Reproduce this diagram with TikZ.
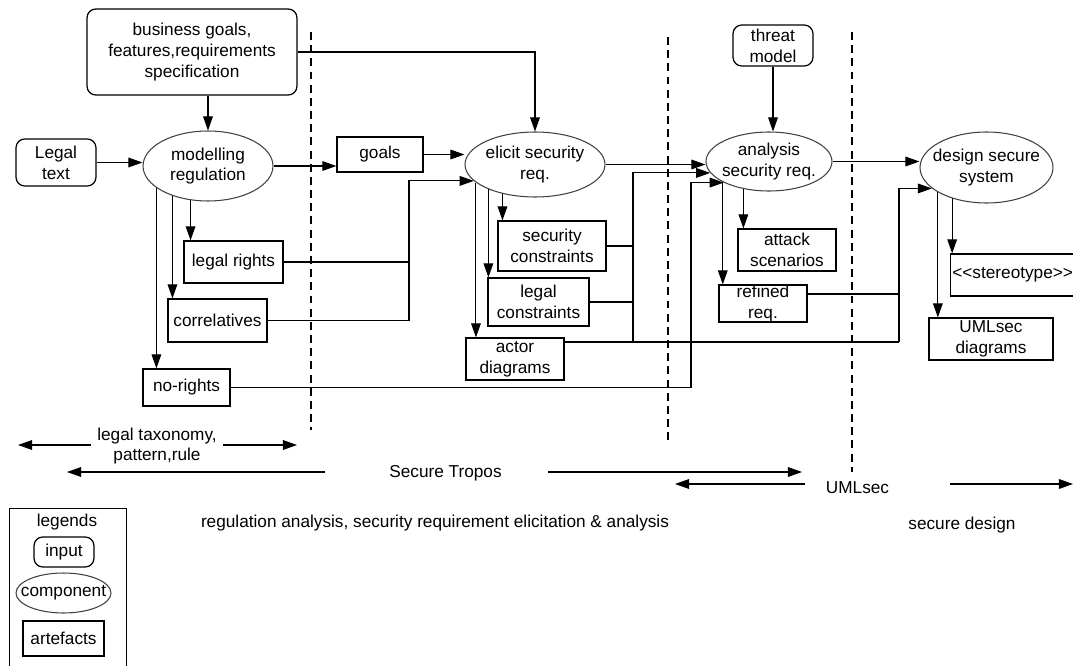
\documentclass[tikz,border=0pt]{standalone}
\usepackage{fontspec}
\setmainfont{Liberation Sans}
\usetikzlibrary{arrows.meta,shapes.geometric}

\begin{document}
\begin{tikzpicture}[x=0.02cm, y=-0.02cm,
    font=\fontsize{9.8}{11.8}\selectfont,
    inp/.style={draw, rounded corners=5pt, align=center, inner sep=1pt, line width=0.7pt},
    comp/.style={draw=black!75, ellipse, align=center, inner xsep=-0.2cm, inner ysep=0pt, line width=0.6pt},
    art/.style={draw, rectangle, align=center, inner xsep=2pt, inner ysep=0pt, line width=0.7pt},
    arr/.style={line width=0.6pt, -{Triangle[length=8pt, width=5.5pt]}},
    lnk/.style={line width=0.6pt},
    sep/.style={line width=0.6pt, dash pattern=on 4.5pt off 3pt}]
    \useasboundingbox (0,0) rectangle (1073,666);
    \clip (0,0) rectangle (1073,666);

    \node[inp, minimum width=4.2cm, minimum height=1.72cm]
        (bus) at (192, 52) {business goals,\\features,requirements\\specification};
    \node[inp, minimum width=1.6cm, minimum height=0.94cm]
        (lt) at (56, 162.5) {Legal\\text};
    \node[inp, minimum width=1.6cm, minimum height=0.82cm]
        (thr) at (773, 45.5) {threat\\model};

    \node[comp, minimum width=2.6cm, minimum height=1.4cm]
        (mod) at (208, 166) {modelling\\regulation};
    \node[comp, minimum width=2.8cm, minimum height=1.3cm]
        (elc) at (535, 164.5) {elicit security\\req.};
    \node[comp, minimum width=2.52cm, minimum height=1.18cm]
        (ana) at (769, 161.5) {analysis\\security req.};
    \node[comp, minimum width=2.66cm, minimum height=1.42cm]
        (dsn) at (986.5, 167.5) {design secure\\system};

    \node[art, minimum width=1.72cm, minimum height=0.7cm] (goals) at (380, 154.5) {goals};
    \node[art, minimum width=1.98cm, minimum height=0.84cm] (lr) at (233.5, 262) {legal rights};
    \node[art, minimum width=1.98cm, minimum height=0.86cm] (cor) at (217.5, 320.5) {correlatives};
    \node[art, minimum width=1.74cm, minimum height=0.74cm] (nr) at (186.5, 387.5) {no-rights};
    \node[art, minimum width=2.16cm, minimum height=1.0cm] (sc) at (552, 246) {security\\constraints};
    \node[art, minimum width=2.02cm, minimum height=0.96cm] (lc) at (538.5, 302) {legal\\constraints};
    \node[art, minimum width=1.96cm, minimum height=0.84cm] (ad) at (515, 359) {actor\\diagrams};
    \node[art, minimum width=1.96cm, minimum height=0.84cm] (att) at (787, 250) {attack\\scenarios};
    \node[art, minimum width=1.76cm, minimum height=0.74cm] (rr) at (763, 303.5) {refined\\req.};
    \node[art, inner xsep=1pt, text width=2.56cm, align=left, minimum height=0.84cm, anchor=west]
        (st) at (950, 275) {<\kern0pt<stereotype>\kern0pt>};
    \node[art, minimum width=2.48cm, minimum height=0.84cm] (um) at (991, 339) {UMLsec\\diagrams};

    \draw[sep] (311, 32) -- (311, 430);
    \draw[sep] (668, 37) -- (668, 444);
    \draw[sep] (852, 32) -- (852, 472);

    \draw[arr] (bus.south -| mod.north) -- (mod.north);
    \draw[arr] (bus.east) -| (elc.north);
    \draw[arr] (lt.east) -- (lt.east -| mod.west);
    \draw[arr] (mod.east) -- (mod.east -| goals.west);
    \draw[arr] (goals.east) -- (goals.east -| elc.west);
    \draw[arr] (elc.east) -- (elc.east -| ana.west);
    \draw[arr] (ana.east) -- (ana.east -| dsn.west);
    \draw[arr] (thr.south) -- (thr.south |- ana.north);

    \draw[arr] (mod.243) -- (mod.243 |- lr.north);
    \draw[arr] (mod.220) -- (mod.220 |- cor.north);
    \draw[arr] (mod.203) -- (mod.203 |- nr.north);
    \draw[arr] (elc.222) -- (elc.222 |- sc.north);
    \draw[arr] (elc.208) -- (elc.208 |- lc.north);
    \draw[arr] (elc.197) -- (elc.197 |- ad.north);
    \draw[arr] (ana.227) -- (ana.227 |- att.north);
    \draw[arr] (ana.204) -- (ana.204 |- rr.north);
    \draw[arr] (dsn.222) -- (dsn.222 |- st.north);
    \draw[arr] (dsn.207) -- (dsn.207 |- um.north);

    \coordinate (j1) at (409, 320.5);
    \coordinate (j2) at (633, 342);
    \coordinate (j3) at (899, 342);
    \coordinate (j4) at (691, 387.5);
    \coordinate (j5) at (899, 294);
    \draw[lnk] (lr.east) -- (lr.east -| j1);
    \draw[lnk] (cor.east) -- (j1);
    \draw[arr] (j1) |- (elc.195);
    \draw[lnk] (sc.east) -- (sc.east -| j2);
    \draw[lnk] (lc.east) -- (lc.east -| j2);
    \draw[lnk] (ad.east |- j2) -- (j3);
    \draw[arr] (j2) |- (ana.191);
    \draw[lnk] (nr.east) -- (j4);
    \draw[arr] (j4) |- (ana.205);
    \draw[lnk] (rr.east |- j5) -- (j5);
    \draw[arr] (j3) |- (dsn.201);

    \node[align=center] (tax) at (157, 446) {legal taxonomy,\\pattern,rule};
    \node (tropos) at (445.5, 473) {Secure Tropos};
    \node (umlsec) at (857.5, 488) {UMLsec};
    \node (regan) at (435, 523) {regulation analysis, security requirement elicitation \& analysis};
    \node (secd) at (962, 525) {secure design};
    \coordinate (tax-l) at (18, 445);
    \coordinate (tax-r) at (297, 445);
    \coordinate (st-a) at (325, 472);
    \coordinate (st-l) at (67, 472);
    \coordinate (st-b) at (548, 472);
    \coordinate (st-r) at (802, 472);
    \coordinate (um-a) at (805, 484);
    \coordinate (um-l) at (675, 484);
    \coordinate (um-b) at (950, 484);
    \coordinate (um-r) at (1073, 484);
    \draw[arr] (tax.west |- tax-l) -- (tax-l);
    \draw[arr] (tax.east |- tax-r) -- (tax-r);
    \draw[arr] (st-a) -- (st-l);
    \draw[arr] (st-b) -- (st-r);
    \draw[arr] (um-a) -- (um-l);
    \draw[arr] (um-b) -- (um-r);

    \node[draw, line width=0.7pt, minimum width=2.34cm, minimum height=3.6cm, anchor=north west]
        (legbox) at (9, 508) {};
    \node (legt) at (67, 522) {legends};
    \node[inp, minimum width=1.2cm, minimum height=0.6cm] (leg-in) at (64, 552) {input};
    \node[comp, minimum width=1.9cm, minimum height=0.8cm] (leg-co) at (63.5, 593) {component};
    \node[art, minimum width=1.62cm, minimum height=0.7cm] (leg-ar) at (63.5, 638.5) {artefacts};
\end{tikzpicture}
\end{document}
